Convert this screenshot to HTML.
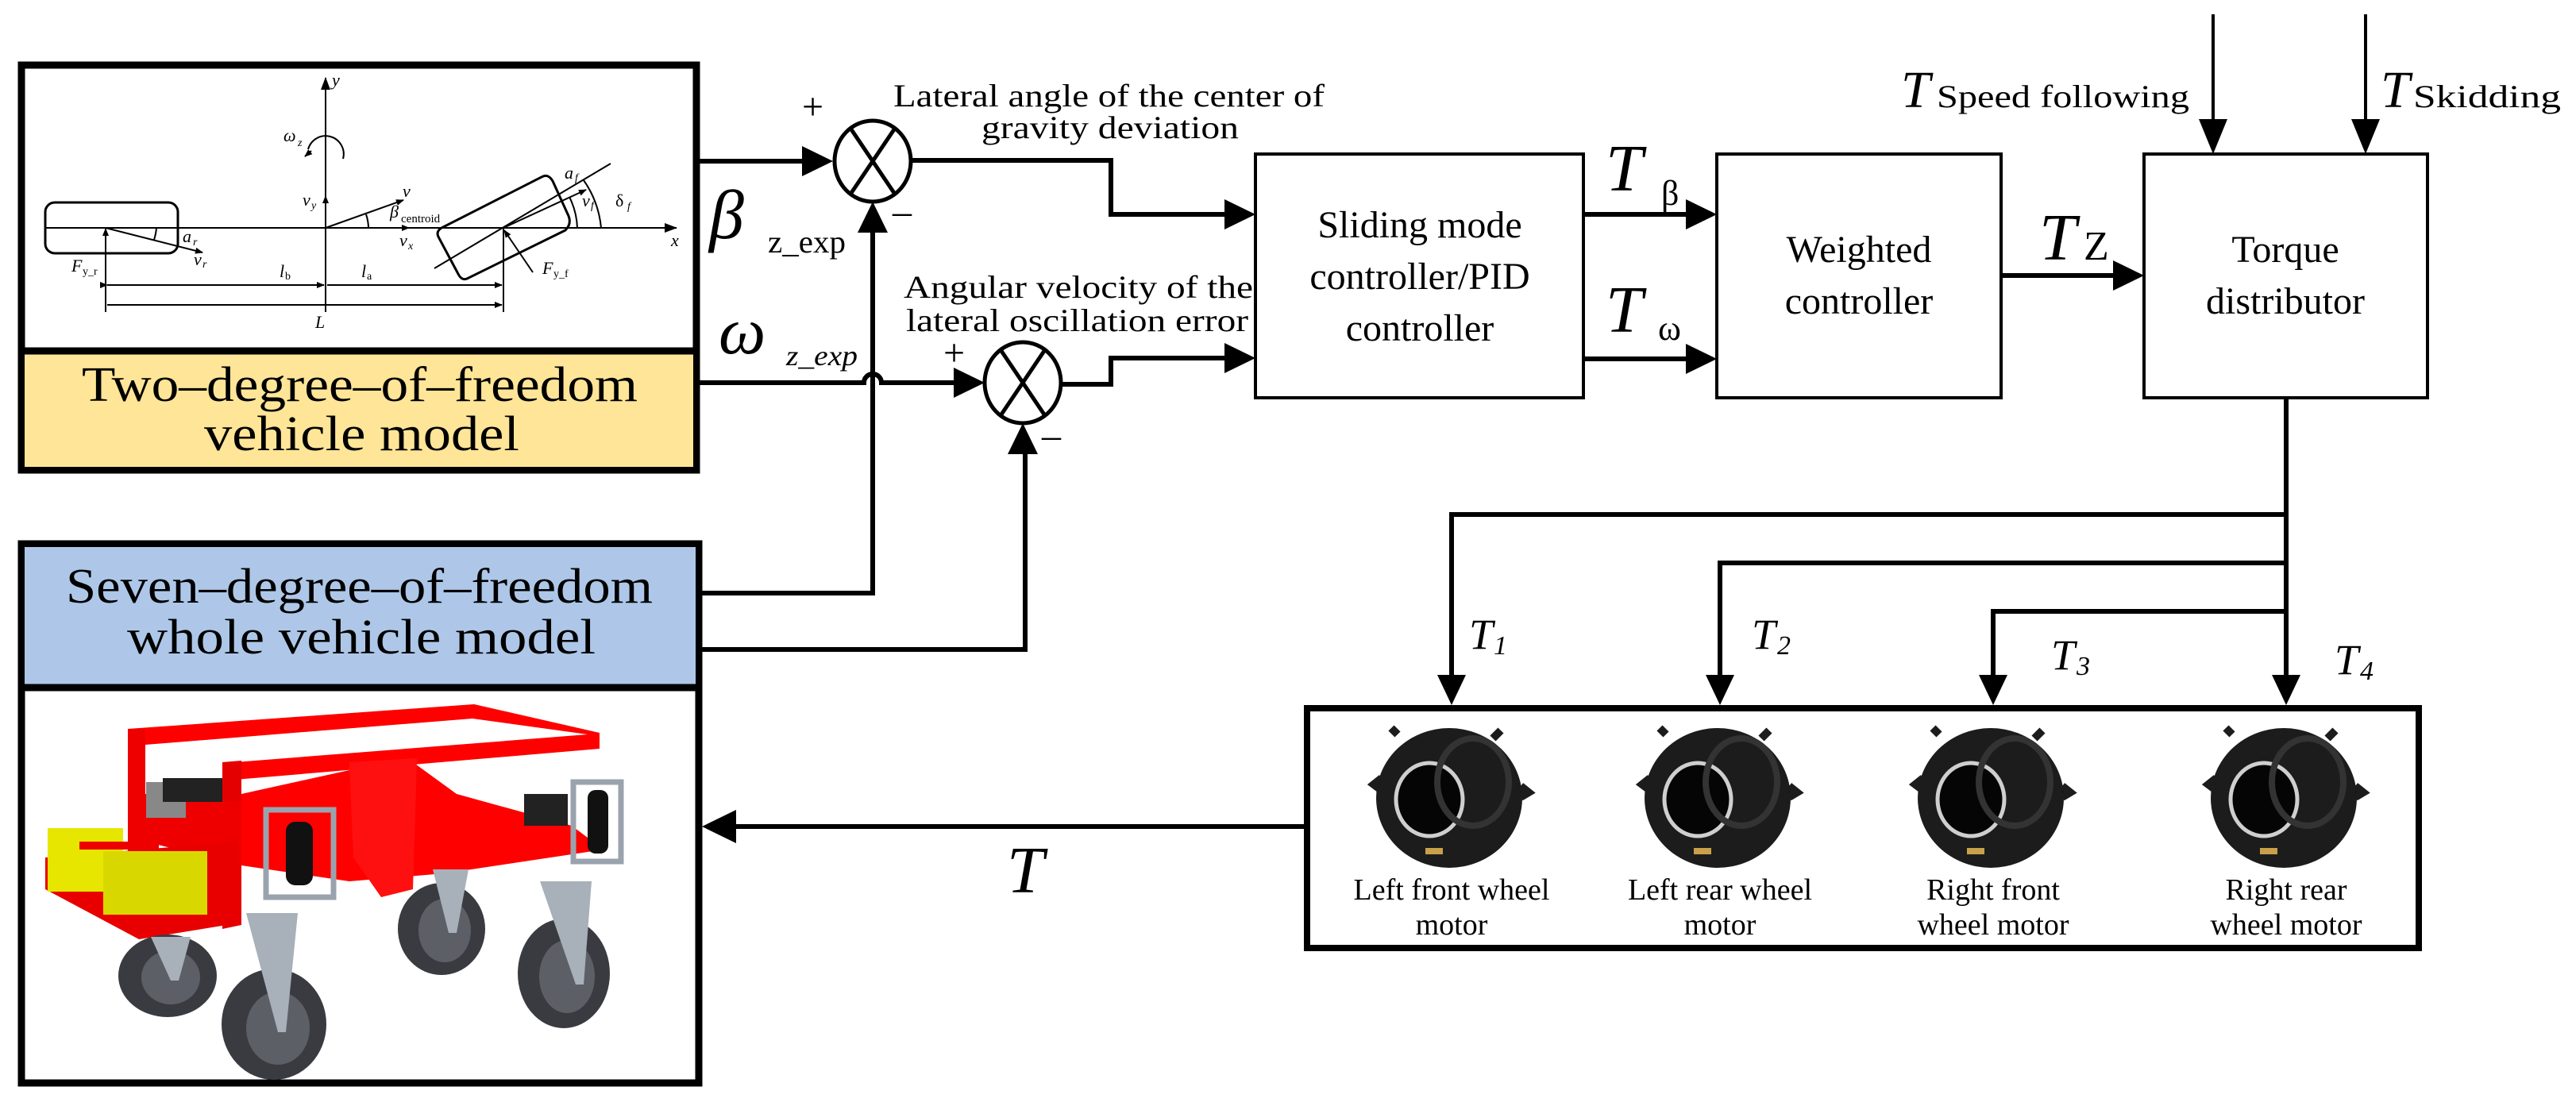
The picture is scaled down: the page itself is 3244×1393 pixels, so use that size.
<!DOCTYPE html>
<html><head><meta charset="utf-8"><style>
html,body{margin:0;padding:0;background:#fff;}
svg{display:block;}
</style></head><body>
<svg width="3244" height="1393" viewBox="0 0 3244 1393" xmlns="http://www.w3.org/2000/svg" font-family="'Liberation Serif', 'DejaVu Serif', serif">
<defs>
<marker id="sa" markerWidth="10" markerHeight="10" refX="9" refY="5" orient="auto" markerUnits="userSpaceOnUse"><path d="M0,1 L10,5 L0,9 z" fill="#000"/></marker>
<marker id="sb" markerWidth="16" markerHeight="12" refX="15" refY="6" orient="auto" markerUnits="userSpaceOnUse"><path d="M0,0 L16,6 L0,12 z" fill="#000"/></marker>
</defs>

<!-- ===== Top-left 2DOF diagram box ===== -->
<rect x="27" y="82" width="850" height="510" fill="#fff" stroke="#000" stroke-width="9"/>
<rect x="31" y="446" width="842" height="142" fill="#fee597"/>
<line x1="27" y1="442" x2="877" y2="442" stroke="#000" stroke-width="9"/>
<text x="103" y="505" font-size="62" textLength="700" lengthAdjust="spacingAndGlyphs">Two–degree–of–freedom</text>
<text x="257" y="567" font-size="62" textLength="397" lengthAdjust="spacingAndGlyphs">vehicle model</text>

<!-- diagram -->
<g stroke="#000" fill="none" stroke-width="2">
 <line x1="410" y1="393" x2="410" y2="98" marker-end="url(#sb)"/>
 <line x1="56" y1="287" x2="852" y2="287" marker-end="url(#sb)"/>
 <rect x="57" y="255" width="167" height="64" rx="12" stroke-width="3"/>
 <line x1="133" y1="393" x2="133" y2="288" marker-end="url(#sa)"/>
 <line x1="133" y1="287" x2="255" y2="318" marker-end="url(#sa)"/>
 <path d="M197,287 A65,65 0 0 1 194,302"/>
 <path d="M682,223 Q690,218 696,228 L716,272 Q720,282 712,290 L590,350 Q582,355 577,345 L553,300 Q548,292 556,287 Z" stroke-width="3"/>
 <line x1="547" y1="338" x2="769" y2="206"/>
 <line x1="634" y1="287" x2="738" y2="239" marker-end="url(#sa)"/>
 <line x1="671" y1="343" x2="635" y2="290" marker-end="url(#sa)"/>
 <line x1="634" y1="287" x2="634" y2="393"/>
 <path d="M727,287 A95,95 0 0 0 717,248"/>
 <path d="M757,287 A125,125 0 0 0 735,227"/>
 <line x1="410" y1="287" x2="508" y2="252" marker-end="url(#sa)"/>
 <path d="M464,287 A55,55 0 0 0 461,270"/>
 <line x1="410" y1="287" x2="515" y2="287" marker-end="url(#sa)"/>
 <line x1="410" y1="287" x2="410" y2="247" marker-end="url(#sa)"/>
 <path d="M432,200 A22,22 0 0 0 388,188" />
 <line x1="392" y1="190" x2="384" y2="197" marker-end="url(#sa)"/>
 <line x1="135" y1="359" x2="408" y2="359" marker-end="url(#sa)" marker-start="url(#sa)"/>
 <line x1="412" y1="359" x2="632" y2="359" marker-end="url(#sa)"/>
 <line x1="135" y1="384" x2="632" y2="384" marker-end="url(#sa)"/>
</g>
<g font-size="22" font-style="italic">
 <text x="418" y="108">y</text>
 <text x="845" y="310">x</text>
 <text x="357" y="178">ω</text><text x="375" y="184" font-size="14">z</text>
 <text x="381" y="259">v</text><text x="392" y="263" font-size="14">y</text>
 <text x="507" y="248">v</text>
 <text x="491" y="274">β</text><text x="505" y="280" font-size="15" font-style="normal">centroid</text>
 <text x="503" y="310">v</text><text x="514" y="314" font-size="14">x</text>
 <text x="230" y="305">a</text><text x="243" y="309" font-size="14">r</text>
 <text x="244" y="334">v</text><text x="255" y="337" font-size="14">r</text>
 <text x="90" y="342">F</text><text x="104" y="346" font-size="14" font-style="normal">y_r</text>
 <text x="352" y="349">l</text><text x="359" y="352" font-size="14" font-style="normal">b</text>
 <text x="455" y="349">l</text><text x="462" y="352" font-size="14" font-style="normal">a</text>
 <text x="397" y="413">L</text>
 <text x="711" y="225">a</text><text x="724" y="228" font-size="14">f</text>
 <text x="733" y="260">v</text><text x="744" y="263" font-size="14">f</text>
 <text x="775" y="260" font-style="normal">δ</text><text x="790" y="264" font-size="14">f</text>
 <text x="683" y="345">F</text><text x="697" y="349" font-size="14" font-style="normal">y_f</text>
</g>

<!-- ===== Seven DOF box ===== -->
<rect x="27" y="685" width="853" height="679" fill="#fff" stroke="#000" stroke-width="9"/>
<rect x="31" y="689" width="845" height="174" fill="#aec7e8"/>
<line x1="27" y1="866" x2="880" y2="866" stroke="#000" stroke-width="9"/>
<text x="83" y="759" font-size="62" textLength="739" lengthAdjust="spacingAndGlyphs">Seven–degree–of–freedom</text>
<text x="160" y="823" font-size="62" textLength="590" lengthAdjust="spacingAndGlyphs">whole vehicle model</text>

<!-- robot -->
<g>
 <ellipse cx="556" cy="1170" rx="55" ry="58" fill="#3a3b40"/><ellipse cx="560" cy="1172" rx="33" ry="40" fill="#5c5f66"/>
 <ellipse cx="710" cy="1226" rx="58" ry="69" fill="#3a3b40"/><ellipse cx="714" cy="1230" rx="35" ry="46" fill="#5c5f66"/>
 <!-- top frame ring -->
 <polygon points="161,918 597,887 755,923 755,943 296,982 296,960 740,925 595,905 183,938" fill="#f00"/>
 <polygon points="161,918 183,918 183,1110 161,1100" fill="#e00"/>
 <polygon points="280,960 304,958 304,1165 280,1170" fill="#e40000"/>
 <!-- body -->
 <polygon points="304,1000 440,970 520,960 575,1000 720,1040 760,1070 560,1100 440,1110 304,1090" fill="#f00"/>
 <polygon points="440,960 525,955 520,1120 480,1130 445,1080" fill="#ff1010"/>
 <polygon points="183,1000 304,1010 304,1090 183,1060" fill="#e00"/>
 <rect x="184" y="985" width="50" height="45" fill="#888"/>
 <rect x="205" y="980" width="75" height="30" fill="#222"/>
 <rect x="660" y="1000" width="55" height="40" fill="#222"/>
 <rect x="335" y="1020" width="85" height="110" fill="none" stroke="#9aa3ad" stroke-width="7"/>
 <rect x="360" y="1035" width="34" height="80" rx="12" fill="#111"/>
 <rect x="722" y="985" width="60" height="100" fill="none" stroke="#9aa3ad" stroke-width="7"/>
 <rect x="740" y="995" width="26" height="80" rx="10" fill="#111"/>
 <!-- tray + yellow -->
 <polygon points="57,1080 300,1060 304,1162 175,1183 57,1120" fill="#e80000"/>
 <rect x="60" y="1043" width="95" height="80" fill="#e6e600"/>
 <rect x="130" y="1072" width="131" height="80" fill="#d8d800"/>
 <rect x="100" y="1060" width="100" height="10" fill="#e00"/>
 <!-- front wheels & forks -->
 <ellipse cx="211" cy="1229" rx="62" ry="52" fill="#3a3b40"/><ellipse cx="215" cy="1231" rx="37" ry="34" fill="#5c5f66"/>
 <ellipse cx="345" cy="1290" rx="66" ry="70" fill="#3a3b40"/><ellipse cx="350" cy="1295" rx="40" ry="46" fill="#5c5f66"/>
 <polygon points="190,1180 240,1180 225,1235 215,1235" fill="#a8b0ba"/>
 <polygon points="310,1150 375,1150 360,1300 350,1300" fill="#a8b0ba"/>
 <polygon points="545,1095 590,1095 575,1175 565,1175" fill="#a8b0ba"/>
 <polygon points="680,1110 745,1110 735,1240 725,1240" fill="#a8b0ba"/>
</g>

<!-- ===== Summing junctions ===== -->
<g stroke="#000" stroke-width="5" fill="#fff">
 <ellipse cx="1099" cy="203" rx="48" ry="51"/>
 <ellipse cx="1288" cy="482" rx="48" ry="51"/>
</g>
<g stroke="#000" stroke-width="5">
 <line x1="1070" y1="160" x2="1128" y2="246"/><line x1="1128" y1="160" x2="1070" y2="246"/>
 <line x1="1259" y1="439" x2="1317" y2="525"/><line x1="1317" y1="439" x2="1259" y2="525"/>
</g>
<text x="1010" y="150" font-size="48">+</text>
<text x="1124" y="282" font-size="48">–</text>
<text x="1188" y="460" font-size="48">+</text>
<text x="1312" y="564" font-size="48">–</text>

<!-- connectors -->
<g stroke="#000" stroke-width="6" fill="none">
 <polyline points="880,203 1015,203"/>
 <polyline points="1148,202 1399,202 1399,270 1545,270"/>
 <path d="M880,482 L1088,482 A11,11 0 0 1 1110,482 L1202,482"/>
 <polyline points="1338,484 1399,484 1399,451 1545,451"/>
 <polyline points="884,747 1099,747 1099,290"/>
 <polyline points="884,818 1291,818 1291,572"/>
 <line x1="1994" y1="270" x2="2126" y2="270"/>
 <line x1="1994" y1="452" x2="2126" y2="452"/>
 <line x1="2520" y1="347" x2="2664" y2="347"/>
 <polyline points="2879,501 2879,850"/>
 <polyline points="2879,648 1828,648 1828,850"/>
 <polyline points="2879,709 2166,709 2166,850"/>
 <polyline points="2879,770 2510,770 2510,850"/>
 <line x1="1642" y1="1041" x2="925" y2="1041"/>
</g>
<g stroke="#000" stroke-width="4">
 <line x1="2787" y1="18" x2="2787" y2="160"/>
 <line x1="2979" y1="18" x2="2979" y2="160"/>
</g>
<g fill="#000">
 <polygon points="1049,203 1010,184 1010,222"/>
 <polygon points="1099,254 1080,293 1118,293"/>
 <polygon points="1240,482 1201,463 1201,501"/>
 <polygon points="1288,533 1269,572 1307,572"/>
 <polygon points="1581,270 1542,251 1542,289"/>
 <polygon points="1581,451 1542,432 1542,470"/>
 <polygon points="2162,270 2123,251 2123,289"/>
 <polygon points="2162,452 2123,433 2123,471"/>
 <polygon points="2700,347 2661,328 2661,366"/>
 <polygon points="2787,194 2769,150 2805,150"/>
 <polygon points="2979,194 2961,150 2997,150"/>
 <polygon points="1828,888 1810,850 1846,850"/>
 <polygon points="2166,888 2148,850 2184,850"/>
 <polygon points="2510,888 2492,850 2528,850"/>
 <polygon points="2879,888 2861,850 2897,850"/>
 <polygon points="884,1041 927,1020 927,1062"/>
</g>

<!-- connector labels -->
<text x="1125" y="134" font-size="40" textLength="543" lengthAdjust="spacingAndGlyphs">Lateral angle of the center of</text>
<text x="1236" y="174" font-size="40" textLength="324" lengthAdjust="spacingAndGlyphs">gravity deviation</text>
<text x="1138" y="375" font-size="40" textLength="440" lengthAdjust="spacingAndGlyphs">Angular velocity of the</text>
<text x="1141" y="417" font-size="40" textLength="431" lengthAdjust="spacingAndGlyphs">lateral oscillation error</text>
<text x="893" y="300" font-size="88" font-style="italic">β</text>
<text x="967" y="318" font-size="40" textLength="98" lengthAdjust="spacingAndGlyphs">z_exp</text>
<text x="905" y="445" font-size="84" font-style="italic">ω</text>
<text x="990" y="460" font-size="36" font-style="italic" textLength="90" lengthAdjust="spacingAndGlyphs">z_exp</text>
<text x="2022" y="240" font-size="84" font-style="italic">T</text>
<text x="2092" y="258" font-size="44">β</text>
<text x="2022" y="418" font-size="84" font-style="italic">T</text>
<text x="2088" y="428" font-size="44">ω</text>
<text x="2568" y="327" font-size="84" font-style="italic">T</text>
<text x="2624" y="327" font-size="52">Z</text>
<text x="2394" y="135" font-size="66" font-style="italic">T</text>
<text x="2439" y="135" font-size="40" textLength="318" lengthAdjust="spacingAndGlyphs">Speed following</text>
<text x="2998" y="135" font-size="66" font-style="italic">T</text>
<text x="3039" y="135" font-size="40" textLength="186" lengthAdjust="spacingAndGlyphs">Skidding</text>
<text x="1268" y="1124" font-size="84" font-style="italic">T</text>
<g font-size="54" font-style="italic">
 <text x="1850" y="817">T</text><text x="1881" y="824" font-size="34">1</text>
 <text x="2206" y="817">T</text><text x="2238" y="824" font-size="34">2</text>
 <text x="2583" y="843">T</text><text x="2615" y="850" font-size="34">3</text>
 <text x="2940" y="849">T</text><text x="2972" y="856" font-size="34">4</text>
</g>

<!-- controller boxes -->
<g fill="#fff" stroke="#000" stroke-width="4">
 <rect x="1581" y="194" width="413" height="307"/>
 <rect x="2162" y="194" width="358" height="307"/>
 <rect x="2700" y="194" width="357" height="307"/>
</g>
<g font-size="48" text-anchor="middle">
 <text x="1788" y="299">Sliding mode</text>
 <text x="1788" y="364">controller/PID</text>
 <text x="1788" y="429">controller</text>
 <text x="2341" y="330">Weighted</text>
 <text x="2341" y="395">controller</text>
 <text x="2878" y="330">Torque</text>
 <text x="2878" y="395">distributor</text>
</g>

<!-- motor box -->
<rect x="1646" y="892" width="1400" height="302" fill="#fff" stroke="#000" stroke-width="8"/>
<g id="w">
 <ellipse cx="1825" cy="1005" rx="92" ry="88" fill="#1c1c1c"/>
 <path d="M1740,980 l-10,8 l8,6 M1915,990 l10,8 l-10,6 M1760,925 l-8,-8 M1880,930 l10,-10" stroke="#1c1c1c" stroke-width="10"/>
 <ellipse cx="1800" cy="1007" rx="42" ry="46" fill="#050505" stroke="#cfcfcf" stroke-width="5"/>
 <ellipse cx="1855" cy="985" rx="45" ry="55" fill="none" stroke="#333" stroke-width="8"/>
 <rect x="1795" y="1068" width="22" height="8" fill="#c9a04a"/>
</g>
<use href="#w" x="338"/>
<use href="#w" x="682"/>
<use href="#w" x="1051"/>
<g font-size="38" text-anchor="middle">
 <text x="1828" y="1133">Left front wheel</text>
 <text x="1828" y="1177">motor</text>
 <text x="2166" y="1133">Left rear wheel</text>
 <text x="2166" y="1177">motor</text>
 <text x="2510" y="1133">Right front</text>
 <text x="2510" y="1177">wheel motor</text>
 <text x="2879" y="1133">Right rear</text>
 <text x="2879" y="1177">wheel motor</text>
</g>
</svg>
</body></html>
